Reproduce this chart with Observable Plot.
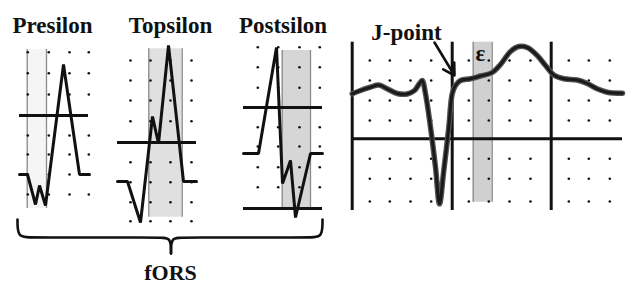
<!DOCTYPE html>
<html><head><meta charset="utf-8">
<script src="https://cdn.jsdelivr.net/npm/d3@7"></script>
<script src="https://cdn.jsdelivr.net/npm/@observablehq/plot@0.6"></script>
<style>body{margin:0;background:#fff}</style>
</head><body><div id="chart"></div>
<script>
// ---- data (diagram units ≈ picture pixels) ----
const panelTitles = ["Presilon", "Topsilon", "Postsilon"];
const panelTitleX = [52, 170, 282.5];

// grid dot columns / rows per panel
const p1Cols = [27.3, 48.3, 69, 88.3];
const p1Rows = [51.7, 72.7, 94, 135, 154, 174, 194];
const p2Cols = [130, 150, 170, 191];
const p2Rows = [60, 80, 100, 120.7, 161.7, 181.7, 201.7, 220.7];
const p3Cols = [257.3, 277.7, 299, 319.3];
const p3Rows = [46.7, 66.7, 87.3, 126.7, 146, 166.7, 186.7];
const p4Cols = [369.3, 389.3, 410, 430.7, 468.3, 488.3, 509, 530, 568.3, 588.3, 609.3];
const p4Rows = [60, 80, 100, 120, 158.3, 178.3, 201];

// shaded epsilon windows: [x1, x2, y1, y2, fill]
const bands = [
  [26.7, 46, 49, 208, "#f5f5f5"],
  [148.3, 181.7, 48.3, 216.7, "#e0e0e0"],
  [281.7, 310, 50, 210, "#d6d6d6"],
  [472.7, 491.7, 41.7, 201.7, "#d0d0d0"]
];

// baseline / isoelectric lines: [x1, x2, y]
const hLines = [
  [19, 88, 115],
  [117, 196, 142],
  [243, 322, 107],
  [243, 322, 208],
  [351.7, 622, 138.3]
];
// heavy vertical lines of the large tracing: [x, y1, y2]
const vLines = [[351.7, 41.7, 210], [451.7, 41.7, 210], [550.7, 41.7, 210]];

// schematic QRS complexes
const presilonWave = [[19,174],[27,174],[35,204],[39,185],[45,205],[63,64],[79,174],[89,174]];
const topsilonWave = [[117,181],[127,181],[140,222],[152,116],[158,143],[168,45],[183,181],[196,181]];
const postsilonWave = [[243,153],[258,153],[276,47],[282,183],[290,160],[295,217],[310,153],[322,153]];

// large ECG tracing
const ecgWave = [[351.7,93.3],[360,90],[370,86.7],[378.3,84.5],[386.7,88.3],[396.7,93],[406.7,93.5],[414,90],[419,83],[421.7,80],[425,93.3],[430,126.7],[435,166.7],[439,203.3],[443.3,170],[448.3,126.7],[451.7,93.3],[455,85],[460,80],[470,78.3],[480,75.5],[491.7,72],[500,64],[510,51],[518.3,46],[526.7,47],[536.7,55],[545,65],[553.3,74.5],[563.3,78.3],[576.7,79.5],[586.7,83],[596.7,88.3],[606.7,91.7],[622,92.7]];

// brace under the three QRS panels
const braceLeft = [[17,219],[17,237],[30,237],[160,237],[170.5,237],[170.5,253]];
const braceRight = [[170.5,253],[170.5,237],[181,237],[310,237],[322,237],[322,219]];

const labels = [
  {x: 406, y: 39, text: "J-point", size: 23},
  {x: 480, y: 60, text: "ε", size: 23},
  {x: 170, y: 279, text: "fORS", size: 22}
];
const arrow = [{x1: 434, y1: 42, x2: 454, y2: 75}];

// ---- derived tables ----
const grid = (cols, rows) => cols.flatMap(x => rows.map(y => ({x, y})));
const dots = [
  ...grid(p1Cols, p1Rows), ...grid(p2Cols, p2Rows),
  ...grid(p3Cols, p3Rows), ...grid(p4Cols, p4Rows)
];
const bandRows = bands.map(([x1, x2, y1, y2, fill]) => ({x1, x2, y1, y2, fill}));
const bandEdges = bands.flatMap(([x1, x2, y1, y2]) => [{x: x1, y1, y2}, {x: x2, y1, y2}]);
const hRows = hLines.map(([x1, x2, y]) => ({x1, x2, y}));
const vRows = vLines.map(([x, y1, y2]) => ({x, y1, y2}));
const titleRows = panelTitles.map((t, i) => ({x: panelTitleX[i], y: 32, text: t}));
const serif = "'Liberation Serif', 'Times New Roman', serif";

const chart = Plot.plot({
  width: 627,
  height: 283,
  margin: 0,
  x: {domain: [0, 627], range: [0, 627], axis: null},
  y: {domain: [0, 283], range: [0, 283], axis: null},
  style: {background: "#fff"},
  marks: [
    Plot.rect(bandRows, {x1: "x1", x2: "x2", y1: "y1", y2: "y2", fill: d => d.fill}),
    Plot.ruleX(bandEdges, {x: "x", y1: "y1", y2: "y2", stroke: "#8a8a8a", strokeWidth: 1.3}),
    Plot.dot(dots, {x: "x", y: "y", r: 1.3, fill: "#111", stroke: null}),
    Plot.ruleY(hRows, {y: "y", x1: "x1", x2: "x2", stroke: "#111", strokeWidth: 3}),
    Plot.ruleX(vRows, {x: "x", y1: "y1", y2: "y2", stroke: "#111", strokeWidth: 3}),
    Plot.line(presilonWave, {x: d => d[0], y: d => d[1], stroke: "#111", strokeWidth: 3, strokeLinejoin: "miter"}),
    Plot.line(topsilonWave, {x: d => d[0], y: d => d[1], stroke: "#111", strokeWidth: 3, strokeLinejoin: "miter"}),
    Plot.line(postsilonWave, {x: d => d[0], y: d => d[1], stroke: "#111", strokeWidth: 3, strokeLinejoin: "miter"}),
    Plot.line(ecgWave, {x: d => d[0], y: d => d[1], stroke: "#555", strokeWidth: 5.5, curve: "catmull-rom"}),
    Plot.line(ecgWave, {x: d => d[0], y: d => d[1], stroke: "#1a1a1a", strokeWidth: 3, curve: "catmull-rom"}),
    Plot.line(braceLeft, {x: d => d[0], y: d => d[1], stroke: "#111", strokeWidth: 2.6, curve: "basis"}),
    Plot.line(braceRight, {x: d => d[0], y: d => d[1], stroke: "#111", strokeWidth: 2.6, curve: "basis"}),
    Plot.arrow(arrow, {x1: "x1", y1: "y1", x2: "x2", y2: "y2", stroke: "#111", strokeWidth: 2.6, headLength: 9}),
    Plot.text(titleRows, {x: "x", y: "y", text: "text", fontSize: 23, fontWeight: "bold", fontFamily: serif, fill: "#111", lineAnchor: "bottom"}),
    Plot.text(labels, {x: "x", y: "y", text: "text", fontSize: d => d.size, fontWeight: "bold", fontFamily: serif, fill: "#111", lineAnchor: "bottom"})
  ]
});
document.getElementById("chart").appendChild(chart);
</script></body></html>
